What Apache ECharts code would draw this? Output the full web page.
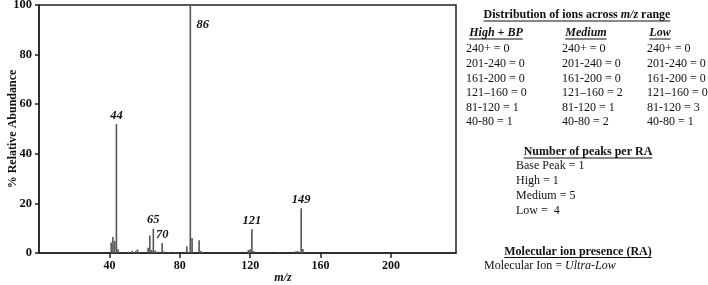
<!DOCTYPE html>
<html>
<head>
<meta charset="utf-8">
<script src="https://cdn.jsdelivr.net/npm/echarts@6/dist/echarts.min.js"></script>
<style>
  html, body { margin: 0; padding: 0; background: #fff; }
  #chart { width: 708px; height: 285px; }
</style>
</head>
<body>
<div id="chart"></div>
<script>
// spectrum peaks (m/z, % relative abundance)
const mzValues = [41, 42, 43, 44, 45, 51, 53, 54, 55, 56, 57, 62, 63, 64, 65, 66, 67, 70, 71, 74, 77, 79,
    84, 85, 86, 87, 91, 92, 93, 119, 120, 121, 122, 136, 146, 147, 149, 150, 178]
const abundance = [4.2, 6.5, 4.8, 52, 1.5, 0.5, 0.9, 0.4, 0.8, 1.4, 0.4, 2.1, 7.1, 1.2, 9.8, 1.0, 0.5, 4.0, 0.6, 0.4, 0.4, 0.4,
    2.7, 0.4, 100, 6.0, 5.1, 0.8, 0.4, 1.2, 1.5, 9.6, 0.8, 0.3, 0.7, 0.8, 18, 1.6, 0.3]
const labelledPeaks = [44, 65, 70, 86, 121, 149]
const xTicks = [40, 80, 120, 160, 200]

// side panel text
const rangeLabels = ['240+', '201-240', '161-200', '121–160', '81-120', '40-80']
const highBP = [0, 0, 0, 0, 1, 1]
const medium = [0, 0, 0, 2, 1, 2]
const low = [0, 0, 0, 0, 3, 1]
const peakCounts = ['Base Peak = 1', 'High = 1', 'Medium = 5', 'Low =  4']

const SERIF = '"Liberation Serif", "Times New Roman", serif'
const measure = (() => {
    const ctx = document.createElement('canvas').getContext('2d')
    return (text, font) => { ctx.font = font; return ctx.measureText(text).width }
})()

const graphics = []
const addText = (text, x, y, font, align) => {
    graphics.push({
        type: 'text',
        style: { text, x, y, font, fill: '#111', align: align || 'left', verticalAlign: 'middle' }
    })
}
// underlined heading, centred on cx
const addHeading = (text, cx, y, font) => {
    addText(text, cx, y, font, 'center')
    const w = measure(text, font)
    graphics.push({
        type: 'line',
        shape: { x1: cx - w / 2, y1: y + 6, x2: cx + w / 2, y2: y + 6 },
        style: { stroke: '#111', lineWidth: 1 }
    })
}

const boldFont = 'bold 12px ' + SERIF
const boldItalic = 'italic bold 12px ' + SERIF
const rowFont = '12px ' + SERIF

// title with italic m/z
const t1 = 'Distribution of ions across ', t2 = 'm/z', t3 = ' range'
const w1 = measure(t1, boldFont), w2 = measure(t2, boldItalic), w3 = measure(t3, boldFont)
let tx = 577 - (w1 + w2 + w3) / 2
addText(t1, tx, 15, boldFont)
addText(t2, tx + w1, 15, boldItalic)
addText(t3, tx + w1 + w2, 15, boldFont)
graphics.push({
    type: 'line',
    shape: { x1: tx, y1: 21, x2: tx + w1 + w2 + w3, y2: 21 },
    style: { stroke: '#111', lineWidth: 1 }
})

addHeading('High + BP', 496, 33, boldItalic)
addHeading('Medium', 586, 33, boldItalic)
addHeading('Low', 660, 33, boldItalic)

const colX = [466, 562, 647]
const colVals = [highBP, medium, low]
rangeLabels.forEach((r, i) => {
    colVals.forEach((vals, c) => {
        addText(r + ' = ' + vals[i], colX[c], 49.3 + i * 14.6, rowFont)
    })
})

addHeading('Number of peaks per RA', 588, 152, boldFont)
peakCounts.forEach((s, i) => addText(s, 516, 165.5 + i * 15.2, rowFont))

addHeading('Molecular ion presence (RA)', 578, 251.5, boldFont)
const m1 = 'Molecular Ion = '
addText(m1, 484, 266, rowFont)
addText('Ultra-Low', 484 + measure(m1, rowFont), 266, 'italic 12px ' + SERIF)

// x axis name
addText('m/z', 283, 278, boldItalic, 'center')

const peakData = mzValues.map((mz, i) => {
    const item = { value: [mz, abundance[i]] }
    if (labelledPeaks.includes(mz)) {
        item.label = { show: true }
        if (abundance[i] >= 100) item.label.position = [7, 13]
    }
    return item
})

const chart = echarts.init(document.getElementById('chart'))
const option = {
    animation: false,
    backgroundColor: '#fff',
    grid: {
        left: 39,
        right: 252,
        top: 5,
        bottom: 32,
        containLabel: false,
        outerBoundsMode: 'none',
        show: true,
        borderColor: '#222',
        borderWidth: 1.5,
    },
    xAxis: {
        type: 'value',
        min: 0,
        max: 237,
        splitLine: { show: false },
        axisLine: { lineStyle: { color: '#222', width: 1.5 } },
        axisTick: { length: 5, customValues: xTicks, lineStyle: { color: '#222', width: 1.5 } },
        axisLabel: {
            customValues: xTicks,
            color: '#111',
            fontFamily: SERIF,
            fontWeight: 'bold',
            fontSize: 12,
            margin: 7,
        },
    },
    yAxis: {
        type: 'value',
        min: 0,
        max: 100,
        interval: 20,
        name: '% Relative Abundance',
        nameLocation: 'middle',
        nameGap: 20,
        nameMoveOverlap: false,
        nameTextStyle: { color: '#111', fontFamily: SERIF, fontWeight: 'bold', fontSize: 12 },
        splitLine: { show: false },
        axisLine: { show: true, lineStyle: { color: '#222', width: 1.5 } },
        axisTick: { show: true, length: 4, lineStyle: { color: '#222', width: 1.5 } },
        axisLabel: {
            color: '#111',
            fontFamily: SERIF,
            fontWeight: 'bold',
            fontSize: 12.5,
            margin: 7,
        },
    },
    series: [
        {
            type: 'bar',
            barWidth: 1.6,
            itemStyle: { color: '#555' },
            label: {
                show: false,
                position: 'top',
                distance: 2,
                formatter: (p) => p.value[0],
                color: '#111',
                fontFamily: SERIF,
                fontStyle: 'italic',
                fontWeight: 'bold',
                fontSize: 12.5,
            },
            data: peakData,
        },
    ],
    graphic: graphics,
}
chart.setOption(option)
</script>
</body>
</html>
